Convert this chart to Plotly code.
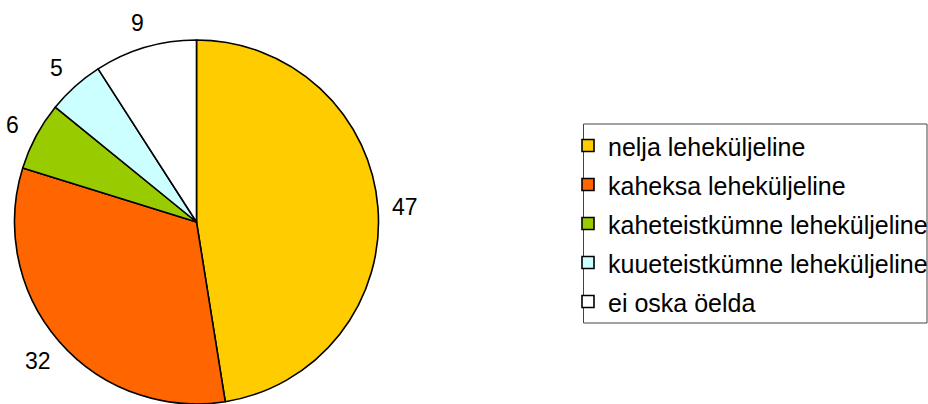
import math
import plotly.graph_objects as go

categories = [
    "nelja leheküljeline",
    "kaheksa leheküljeline",
    "kaheteistkümne leheküljeline",
    "kuueteistkümne leheküljeline",
    "ei oska öelda",
]
values = [47, 32, 6, 5, 9]
colors = ["#FFCC00", "#FF6600", "#99CC00", "#CCFFFF", "#FFFFFF"]

FONT = "Liberation Sans, Arial, sans-serif"
LEGEND_TEXT_SIZE = 25

legend_labels = [f'<span style="font-size:{LEGEND_TEXT_SIZE}px">{c}</span>' for c in categories]

W, H = 928, 404
cx, cy, r = 196.5, 222, 182
label_dist = 1.15  # label centre distance as a multiple of the radius

fig = go.Figure(
    go.Pie(
        labels=legend_labels,
        values=values,
        sort=False,
        direction="clockwise",
        rotation=0,
        marker=dict(colors=colors, line=dict(color="black", width=1.6)),
        textinfo="none",
        domain=dict(x=[(cx - r) / W, (cx + r) / W], y=[0, 2 * r / H]),
        hoverinfo="label+value",
    )
)

# value labels placed outside each slice, at the slice's mid angle
total = sum(values)
annotations = []
cum = 0
for v in values:
    mid = (cum + v / 2) / total * 2 * math.pi
    cum += v
    px = cx + label_dist * r * math.sin(mid)
    py = cy + 2 - label_dist * r * math.cos(mid)
    annotations.append(
        dict(
            x=px / W,
            y=1 - py / H,
            xref="paper",
            yref="paper",
            text=str(v),
            showarrow=False,
            xanchor="center",
            yanchor="middle",
            font=dict(size=23, family=FONT, color="black"),
        )
    )

fig.update_layout(
    width=W,
    height=H,
    margin=dict(l=0, r=0, t=0, b=0, autoexpand=False),
    paper_bgcolor="white",
    plot_bgcolor="white",
    font=dict(family=FONT, color="black"),
    showlegend=True,
    annotations=annotations,
    legend=dict(
        x=568 / W,
        y=1 - 121 / H,
        xanchor="left",
        yanchor="top",
        font=dict(size=27.7, family=FONT, color="black"),
        bgcolor="rgba(0,0,0,0)",
        borderwidth=0,
        itemclick=False,
    ),
    shapes=[
        dict(
            type="rect",
            xref="paper",
            yref="paper",
            x0=583.5 / W,
            x1=927 / W,
            y0=1 - 124 / H,
            y1=1 - 323 / H,
            line=dict(color="#444444", width=1),
            fillcolor="rgba(0,0,0,0)",
            layer="below",
        )
    ],
)

fig.write_html("out.html")
